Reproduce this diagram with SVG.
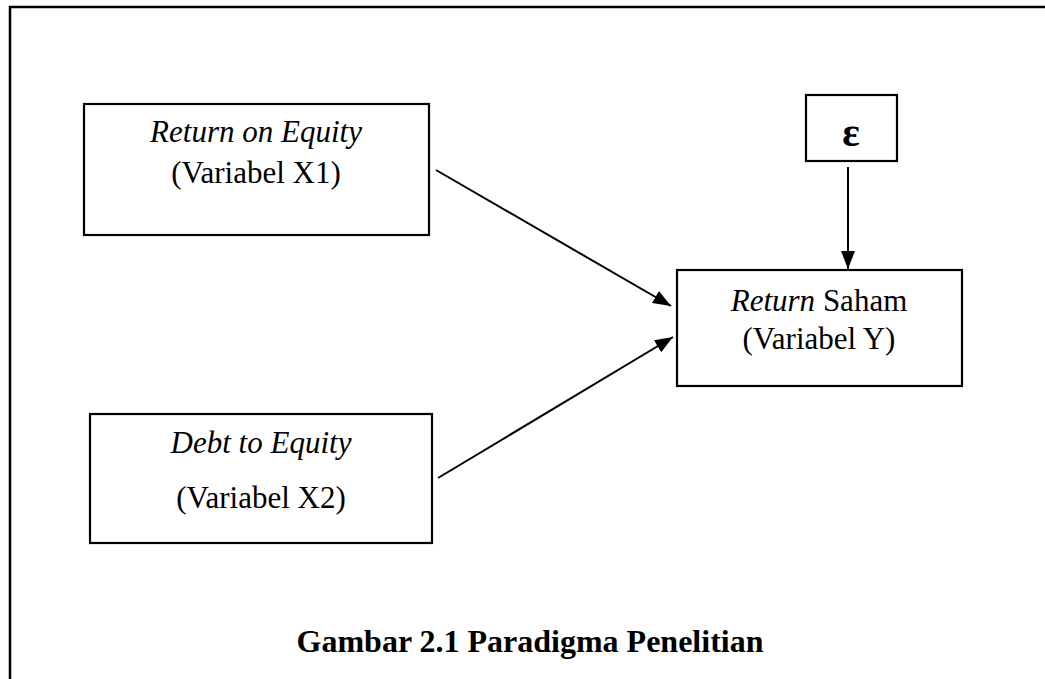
<svg xmlns="http://www.w3.org/2000/svg" width="1045" height="679" viewBox="0 0 1045 679">
  <style>
    .box { fill: #fff; stroke: #000; stroke-width: 2.2; }
    .t { font-family: "Liberation Serif", "Times New Roman", serif; font-size: 31px; fill: #000; text-anchor: middle; }
    .i { font-style: italic; }
    .b { font-weight: bold; }
    .con { stroke: #000; stroke-width: 2; fill: none; marker-end: url(#ah); }
  </style>
  <defs>
    <marker id="ah" markerWidth="9" markerHeight="7" refX="9" refY="3.5" orient="auto" markerUnits="strokeWidth">
      <path d="M0,0 L9,3.5 L0,7 Z" fill="#000"/>
    </marker>
  </defs>
  <rect width="1045" height="679" fill="#fff"/>
  <path id="frame" d="M10,690 L10,7 L1050,7" fill="none" stroke="#000" stroke-width="2.5"/>

  <g id="x1">
    <rect class="box" x="84" y="104" width="345" height="131"/>
    <text class="t i" x="256" y="142">Return on Equity</text>
    <text class="t" x="256" y="183">(Variabel X1)</text>
  </g>
  <g id="x2">
    <rect class="box" x="90" y="414" width="342" height="129"/>
    <text class="t i" x="261" y="453">Debt to Equity</text>
    <text class="t" x="261" y="508">(Variabel X2)</text>
  </g>
  <g id="eps">
    <rect class="box" x="806" y="95" width="91" height="66"/>
    <text class="t b" x="851" y="146" style="font-size:41px">ε</text>
  </g>
  <g id="y">
    <rect class="box" x="677" y="270" width="285" height="116"/>
    <text class="t" x="819" y="311"><tspan class="i">Return</tspan> Saham</text>
    <text class="t" x="819" y="349">(Variabel Y)</text>
  </g>

  <g id="connectors">
    <line class="con" x1="436" y1="170" x2="671" y2="306"/>
    <line class="con" x1="438" y1="478" x2="673" y2="337"/>
    <line class="con" x1="848" y1="167" x2="848" y2="269"/>
  </g>

  <text id="caption" class="t b" x="530" y="652" style="font-size:32px">Gambar 2.1 Paradigma Penelitian</text>
</svg>
